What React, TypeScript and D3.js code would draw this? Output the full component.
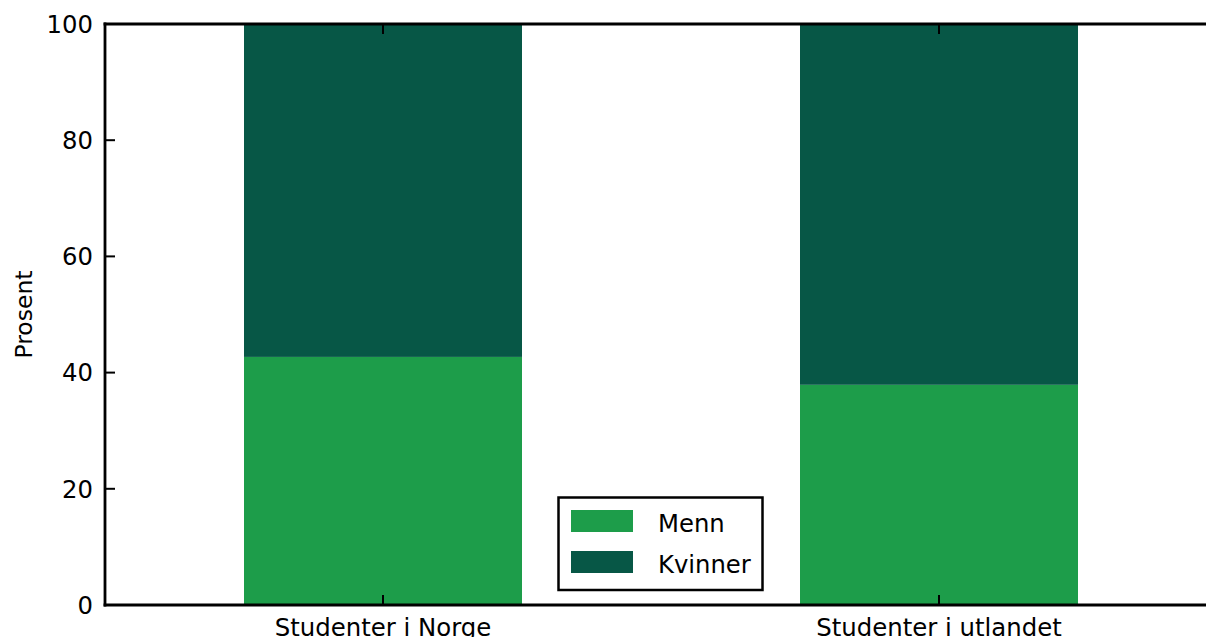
import React from "react";
import * as d3 from "d3";

const categories = ["Studenter i Norge", "Studenter i utlandet"];
const menn = [42.7, 37.9];
const kvinner = [57.3, 62.1];
const seriesNames = ["Menn", "Kvinner"];
const seriesColors = ["#1d9d4a", "#075746"];
const yTicks = [0, 20, 40, 60, 80, 100];

const W = 1206;
const H = 637;
const FONT = "DejaVu Sans, sans-serif";

export default function App() {
  const x = d3.scaleLinear().domain([-0.5, 1.5]).range([105, 1217]);
  const y = d3.scaleLinear().domain([0, 100]).range([605, 24]);
  const barW = x(0.5) - x(0);
  const stack = d3.stack<any>().keys(["menn", "kvinner"])(
    categories.map((c, i) => ({ cat: c, i, menn: menn[i], kvinner: kvinner[i] }))
  );

  return (
    <svg width={W} height={H} style={{ position: "absolute", left: 0, top: 0 }} fontFamily={FONT}>
      <rect width={W} height={H} fill="white" />
      {stack.map((s, si) =>
        s.map((d, i) => (
          <rect
            key={`${si}-${i}`}
            x={x(i) - barW / 2}
            width={barW}
            y={y(d[1])}
            height={y(d[0]) - y(d[1])}
            fill={seriesColors[si]}
          />
        ))
      )}
      {/* spines */}
      <line x1={105} x2={105} y1={y(100) - 1.4} y2={y(0) + 1.4} stroke="black" strokeWidth={2.8} />
      <line x1={105 - 1.4} x2={W} y1={y(0)} y2={y(0)} stroke="black" strokeWidth={2.8} />
      <line x1={105 - 1.4} x2={W} y1={y(100)} y2={y(100)} stroke="black" strokeWidth={2.8} />
      {/* y ticks */}
      {yTicks.map((t) => (
        <g key={t}>
          <line x1={105} x2={115} y1={y(t)} y2={y(t)} stroke="black" strokeWidth={2} />
          <text x={93} y={y(t)} dy="0.36em" textAnchor="end" fontSize={24.3} fill="black">
            {t}
          </text>
        </g>
      ))}
      {/* x ticks */}
      {categories.map((c, i) => (
        <g key={c}>
          <line x1={x(i)} x2={x(i)} y1={y(0)} y2={y(0) - 10} stroke="black" strokeWidth={2} />
          <line x1={x(i)} x2={x(i)} y1={y(100)} y2={y(100) + 10} stroke="black" strokeWidth={2} />
          <text x={x(i)} y={635.5} textAnchor="middle" fontSize={24.4} fill="black">
            {c}
          </text>
        </g>
      ))}
      <text
        transform={`translate(32,${(y(0) + y(100)) / 2}) rotate(-90)`}
        textAnchor="middle"
        fontSize={23.5}
        fill="black"
      >
        Prosent
      </text>
      {/* legend */}
      <rect x={558.5} y={497.5} width={204} height={92.5} fill="white" stroke="black" strokeWidth={2.5} />
      {seriesNames.map((n, i) => (
        <g key={n}>
          <rect x={571} y={510 + i * 41} width={62} height={22} fill={seriesColors[i]} />
          <text x={658} y={531.5 + i * 41} fontSize={24.3} fill="black">
            {n}
          </text>
        </g>
      ))}
    </svg>
  );
}
